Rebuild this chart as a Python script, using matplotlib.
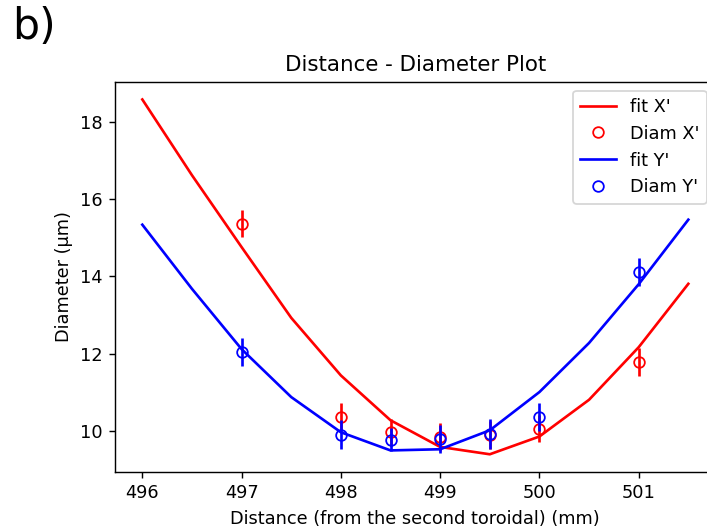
import numpy as np
import matplotlib.pyplot as plt

# fit curves (every 0.5 mm)
x_fit = [496, 496.5, 497, 497.5, 498, 498.5, 499, 499.5, 500, 500.5, 501, 501.5]
fit_x = [18.58, 16.62, 14.76, 12.93, 11.44, 10.28, 9.59, 9.40, 9.86, 10.81, 12.17, 13.81]
fit_y = [15.34, 13.68, 12.12, 10.88, 9.97, 9.50, 9.53, 10.02, 11.01, 12.28, 13.80, 15.47]

# measured diameters
x_meas = [497, 498, 498.5, 499, 499.5, 500, 501]
diam_x = [15.36, 10.36, 9.97, 9.85, 9.89, 10.06, 11.79]
diam_y = [12.04, 9.91, 9.78, 9.80, 9.93, 10.36, 14.12]
err_x = [0.35, 0.36, 0.35, 0.36, 0.36, 0.35, 0.37]
err_y = [0.36, 0.37, 0.30, 0.37, 0.39, 0.37, 0.36]

DPI = 128
fig = plt.figure(figsize=(707 / DPI, 530 / DPI), dpi=DPI)
ax = fig.add_axes([0.1627, 0.1094, 0.8495, 0.7364])

ax.plot(x_fit, fit_x, color='red', label="fit X'")
ax.plot(x_meas, diam_x, 'o', mfc='none', color='red', label="Diam X'")
ax.errorbar(x_meas, diam_x, yerr=err_x, fmt='none', ecolor='red')
ax.plot(x_fit, fit_y, color='blue', label="fit Y'")
ax.plot(x_meas, diam_y, 'o', mfc='none', color='blue', label="Diam Y'")
ax.errorbar(x_meas, diam_y, yerr=err_y, fmt='none', ecolor='blue')

ax.set_title("Distance - Diameter Plot")
ax.set_xlabel("Distance (from the second toroidal) (mm)")
ax.set_ylabel("Diameter (μm)")
ax.legend(loc='upper right')

fig.text(0.017, 0.926, "b)", fontsize=24, va='baseline')

fig.savefig('out.png', dpi=DPI)
